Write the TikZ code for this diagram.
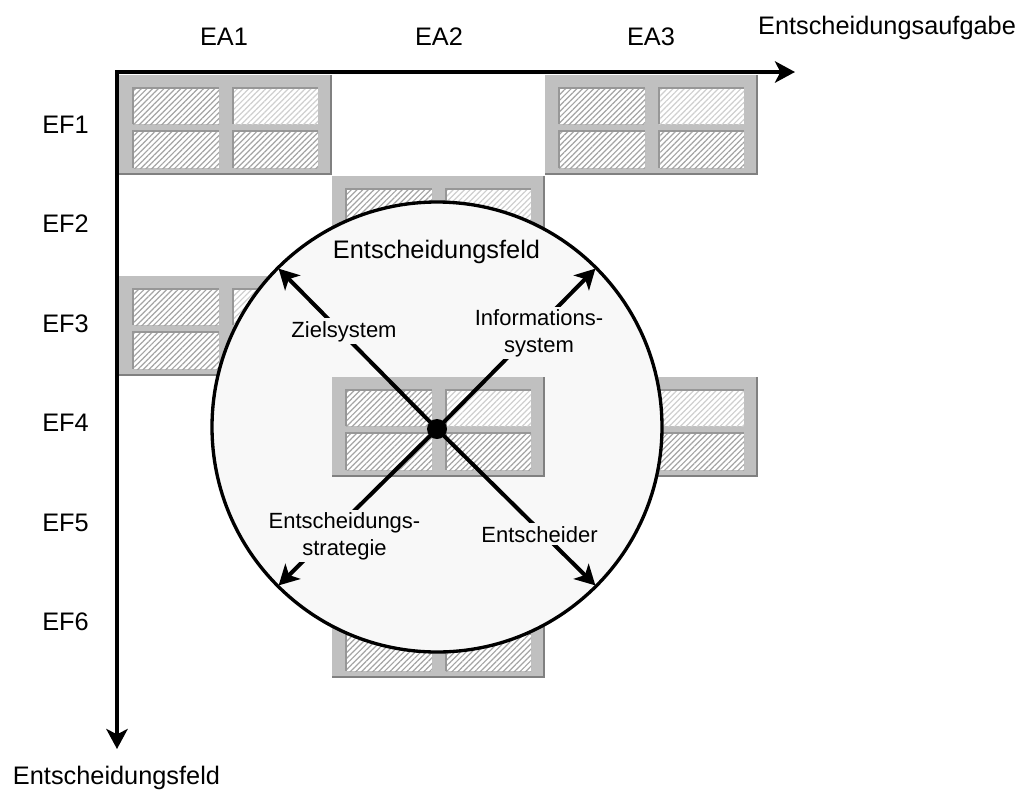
\documentclass[tikz,border=0pt]{standalone}
\usepackage{fontspec}
\setmainfont{Liberation Sans}
\usetikzlibrary{arrows.meta,patterns.meta}

\definecolor{boxgray}{HTML}{C0C0C0}
\definecolor{boxshade}{HTML}{808080}
\definecolor{hatchdark}{HTML}{A4A4A4}
\definecolor{hatchlight}{HTML}{CFCFCF}
\definecolor{celledge}{HTML}{979797}
\definecolor{fieldfill}{HTML}{F8F8F8}

\tikzset{
  biglabel/.style={font=\fontsize{19}{23}\selectfont, inner sep=0pt},
  smalllabel/.style={font=\fontsize{16.5}{20}\selectfont, fill=fieldfill, inner sep=2pt},
  headtip/.tip={Stealth[length=15pt, width=16pt, inset=4pt]},
  axisline/.style={line width=3pt, line join=miter, {headtip}-{headtip}},
  ray/.style={line width=3pt, -{headtip}, shorten >=2pt},
  hatched/.style={pattern={Lines[angle=45, distance=3pt, line width=0.9pt]}, pattern color=#1},
  % one matrix cell: gray frame holding four hatched panes
  fieldbox/.pic={
    \fill[boxgray] (0,0) rectangle (213,100);
    \draw[boxshade, line width=1.2pt] (212,0) -- (212,99) -- (0,99);
    \fill[white] (14,13) rectangle (100,49);
    \fill[white] (114,13) rectangle (199,49);
    \fill[white] (14,56) rectangle (100,93);
    \fill[white] (114,56) rectangle (199,93);
    \fill[hatched=hatchdark] (14,13) rectangle (100,49);
    \fill[hatched=hatchlight] (114,13) rectangle (199,49);
    \fill[hatched=hatchdark] (14,56) rectangle (100,93);
    \fill[hatched=hatchdark] (114,56) rectangle (199,93);
    \draw[celledge, line width=0.8pt] (14,49) -- (14,13) -- (100,13);
    \draw[celledge, line width=0.8pt] (114,49) -- (114,13) -- (199,13);
    \draw[celledge, line width=0.8pt] (14,93) -- (14,56) -- (100,56);
    \draw[celledge, line width=0.8pt] (114,93) -- (114,56) -- (199,56);
  }
}

\begin{document}
\begin{tikzpicture}[x=0.75pt, y=-0.75pt]
\useasboundingbox (0,0) rectangle (1023,790);

% axes
\coordinate (origin) at (117,72);
\coordinate (xend) at (795,72);
\coordinate (yend) at (117,749);
\draw[axisline] (xend) -- (origin) -- (yend);

% column and row headings
\node[biglabel, anchor=base] (ea1) at (224,45) {EA1};
\node[biglabel, anchor=base] (ea2) at (439,45) {EA2};
\node[biglabel, anchor=base] (ea3) at (651,45) {EA3};
\node[biglabel, anchor=base] (xname) at (887,34) {Entscheidungsaufgabe};
\node[biglabel, anchor=base] (ef1) at (65.5,133) {EF1};
\node[biglabel, anchor=base] (ef2) at (65.5,232) {EF2};
\node[biglabel, anchor=base] (ef3) at (65.5,332) {EF3};
\node[biglabel, anchor=base] (ef4) at (65.5,431) {EF4};
\node[biglabel, anchor=base] (ef5) at (65.5,531) {EF5};
\node[biglabel, anchor=base] (ef6) at (65.5,630) {EF6};
\node[biglabel, anchor=base] (yname) at (116.5,784) {Entscheidungsfeld};

% matrix cells behind the field
\pic (c11) at (119,75) {fieldbox};
\pic (c31) at (545,75) {fieldbox};
\pic (c22) at (332,176) {fieldbox};
\pic (c13) at (119,276) {fieldbox};
\pic (c34) at (545,377) {fieldbox};
\pic (c26) at (332,578) {fieldbox};

% decision field
\node[draw=black, line width=2.5pt, fill=fieldfill, circle, minimum size=337.5pt, inner sep=0pt] (feld) at (437,427) {};
\node[biglabel, anchor=base] (feldname) at (436.5,258) {Entscheidungsfeld};

% central cell
\pic (c24) at (332,377) {fieldbox};

% hub with its four rays
\coordinate (hubc) at (437,429);
\draw[ray] (hubc) -- (feld.135);
\draw[ray] (hubc) -- (feld.45);
\draw[ray] (hubc) -- (feld.225);
\draw[ray] (hubc) -- (feld.315);
\node[circle, fill=black, minimum size=15pt, inner sep=0pt] (hub) at (hubc) {};

\node[smalllabel, anchor=base] (ziel) at (344,337) {Zielsystem};
\node[smalllabel, align=center] (info) at (539,333) {Informations-\\system};
\node[smalllabel, align=center] (strat) at (344.5,536) {Entscheidungs-\\strategie};
\node[smalllabel, anchor=base] (entsch) at (539.5,542) {Entscheider};
\end{tikzpicture}
\end{document}
